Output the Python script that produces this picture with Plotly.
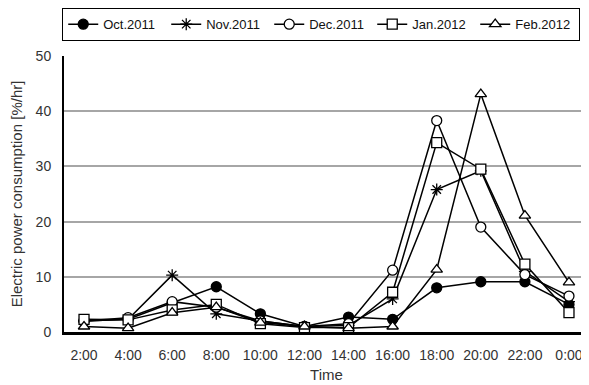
import plotly.graph_objects as go

times = ["2:00", "4:00", "6:00", "8:00", "10:00", "12:00", "14:00", "16:00", "18:00", "20:00", "22:00", "0:00"]
oct_2011 = [2.0, 2.3, 5.3, 8.2, 3.3, 1.0, 2.7, 2.3, 8.0, 9.1, 9.1, 5.0]
nov_2011 = [2.0, 2.3, 10.3, 3.3, 2.0, 1.0, 1.2, 6.0, 25.8, 29.2, 11.0, 5.5]
dec_2011 = [2.0, 2.6, 5.5, 4.5, 2.0, 1.0, 1.5, 11.2, 38.3, 19.0, 10.4, 6.5]
jan_2012 = [2.3, 2.2, 4.0, 5.0, 1.5, 0.8, 0.8, 7.2, 34.3, 29.5, 12.3, 3.5]
feb_2012 = [1.0, 0.7, 3.5, 4.5, 1.7, 1.0, 0.7, 1.0, 11.3, 43.1, 21.1, 9.0]

series = [
    ("Oct.2011", oct_2011, "circle", "black", 10),
    ("Nov.2011", nov_2011, "asterisk-open", "black", 10),
    ("Dec.2011", dec_2011, "circle", "white", 10),
    ("Jan.2012", jan_2012, "square", "white", 10),
    ("Feb.2012", feb_2012, "triangle-up", "white", 10),
]

fig = go.Figure()
for name, vals, sym, fill, size in series:
    fig.add_trace(go.Scatter(
        x=list(range(len(times))), y=vals, name=name, mode="lines+markers",
        line=dict(color="black", width=1.5),
        marker=dict(symbol=sym, size=size, color=fill,
                    line=dict(color="black", width=1.3)),
    ))

# the page body has an 8px margin, so the figure is sized to fill the rest
fig.update_layout(
    width=581, height=377,
    margin=dict(l=56, r=0, t=48, b=53, autoexpand=False),
    paper_bgcolor="white", plot_bgcolor="white",
    font=dict(family="Liberation Sans, Arial, sans-serif", color="#222", size=13),
    showlegend=True,
    legend=dict(orientation="h", x=0.093, xanchor="left", y=1.0, yanchor="top",
                xref="container", yref="container",
                bordercolor="black", borderwidth=1.2,
                font=dict(size=13, color="#111"),
                itemwidth=30, entrywidth=58, entrywidthmode="pixels",
                tracegroupgap=0),
    xaxis=dict(
        tickmode="array", tickvals=list(range(len(times))), ticktext=times,
        range=[-0.454, 11.454], showgrid=False, zeroline=False,
        showline=True, linecolor="black", linewidth=2.5,
        ticks="", tickfont=dict(size=14, color="#333"), automargin=False,
        ticklabelstandoff=8,
        title=dict(text="Time", font=dict(size=15, color="#333"), standoff=8),
    ),
    yaxis=dict(
        range=[0, 50], dtick=10, showgrid=True, gridcolor="#a6a6a6", gridwidth=1.5,
        zeroline=False, showline=True, linecolor="black", linewidth=2,
        ticks="", tickfont=dict(size=14, color="#333"), automargin=False,
        ticklabelstandoff=8,
        title=dict(text="Electric power consumption [%/hr]", font=dict(size=15, color="#333"), standoff=10),
    ),
)

fig.write_html("out.html")
